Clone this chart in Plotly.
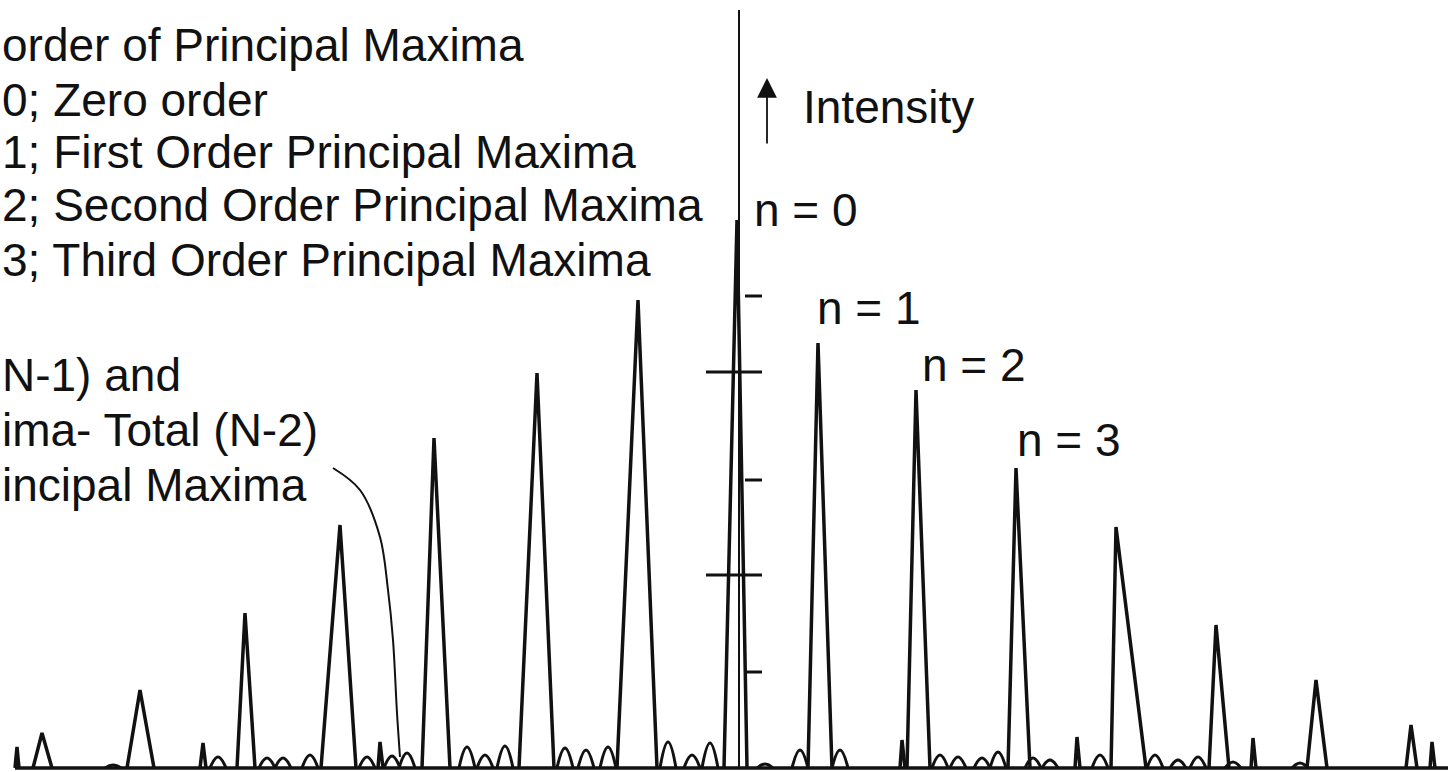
import plotly.graph_objects as go

# ---------------- data ----------------
# principal maxima: centre position, intensity, left foot, right foot
peak_pos   = [17, 42, 140, 203, 245, 340, 380, 434, 537, 638, 737, 818, 902, 916, 1016, 1077, 1116, 1216, 1253, 1316, 1411, 1432]
peak_int   = [21, 35, 78, 25, 155, 243, 26, 330, 395, 468, 548, 425, 28, 378, 300, 31, 241, 143, 30, 88, 43, 26]
peak_left  = [15, 33, 127, 200, 237, 321, 378, 422, 519, 617, 724, 808, 900, 907, 1008, 1075, 1111, 1209, 1251, 1307, 1406, 1430]
peak_right = [19, 52, 154, 206, 255, 356, 383, 450, 554, 657, 747, 832, 905, 930, 1030, 1080, 1146, 1229, 1256, 1327, 1417, 1435]

# secondary maxima (small ripples between principal maxima)
ripple_pos = [113, 218, 267, 283, 310, 367, 392, 407, 467, 485, 505, 565, 586, 608, 668, 692, 710,
              765, 800, 840, 940, 958, 982, 998, 1033, 1050, 1100, 1155, 1178, 1198, 1233, 1300]
ripple_int = [3, 11, 10, 10, 13, 11, 12, 15, 21, 13, 22, 20, 18, 21, 26, 13, 25,
              4, 18, 18, 13, 11, 10, 16, 10, 8, 13, 13, 8, 11, 6, 5]
baseline_start, baseline_end = 15, 1448

# pointer curve from the "(N-2) secondary maxima" note
pointer_x = [333, 360, 380, 388, 393, 397, 400]
pointer_y = [300, 278, 231, 178, 128, 55, 11]

# intensity-axis ticks
axis_pos = 739
axis_top = 758
major_ticks = [193, 396]
minor_ticks = [96, 288, 472]

left_lines = ["order of Principal Maxima",
              "0; Zero order",
              "1; First Order Principal Maxima",
              "2; Second Order Principal Maxima",
              "3; Third Order Principal Maxima"]
left_lines_y = [723, 668, 616, 563, 508]

note_lines = ["N-1) and", "ima- Total (N-2)", "incipal Maxima"]
note_lines_y = [393, 338, 283]

order_labels = ["n = 0", "n = 1", "n = 2", "n = 3"]
order_label_x = [752, 815, 920, 1015]
order_label_y = [558, 460, 403, 328]

# ---------------- build figure ----------------
INK = "#111111"
FONT = dict(family="Liberation Sans, Arial, sans-serif", size=46, color=INK)

# ripples as separate small rounded humps
hw = 8
rx, ry = [], []
for c, h in zip(ripple_pos, ripple_int):
    rx += [c - hw, c, c + hw, None]
    ry += [0, h, 0, None]

# principal maxima as separate triangular segments
px, py = [], []
for c, h, l, r in zip(peak_pos, peak_int, peak_left, peak_right):
    px += [l, c, r, None]
    py += [0, h, 0, None]

fig = go.Figure()
fig.add_trace(go.Scatter(x=[baseline_start, baseline_end], y=[0, 0], mode="lines",
                         line=dict(color=INK, width=3.5),
                         hoverinfo="skip", showlegend=False))
fig.add_trace(go.Scatter(x=rx, y=ry, mode="lines",
                         line=dict(color=INK, width=3, shape="spline", smoothing=1.3),
                         connectgaps=False, hoverinfo="skip", showlegend=False))
fig.add_trace(go.Scatter(x=px, y=py, mode="lines",
                         line=dict(color=INK, width=3.5),
                         connectgaps=False, hoverinfo="skip", showlegend=False))
fig.add_trace(go.Scatter(x=pointer_x, y=pointer_y, mode="lines",
                         line=dict(color=INK, width=2, shape="spline"),
                         hoverinfo="skip", showlegend=False))

shapes = [dict(type="line", xref="x", yref="y", x0=axis_pos, x1=axis_pos, y0=0, y1=axis_top,
               line=dict(color=INK, width=2))]
for t in major_ticks:
    shapes.append(dict(type="line", xref="x", yref="y", x0=axis_pos - 33, x1=axis_pos + 23,
                       y0=t, y1=t, line=dict(color=INK, width=3)))
for t in minor_ticks:
    shapes.append(dict(type="line", xref="x", yref="y", x0=axis_pos + 6, x1=axis_pos + 23,
                       y0=t, y1=t, line=dict(color=INK, width=3)))

annotations = []
for txt, y in zip(left_lines, left_lines_y):
    annotations.append(dict(x=0, y=y, xref="x", yref="y", text=txt, showarrow=False,
                            xanchor="left", yanchor="middle", font=FONT))
for txt, y in zip(note_lines, note_lines_y):
    annotations.append(dict(x=0, y=y, xref="x", yref="y", text=txt, showarrow=False,
                            xanchor="left", yanchor="middle", font=FONT))
for txt, x, y in zip(order_labels, order_label_x, order_label_y):
    annotations.append(dict(x=x, y=y, xref="x", yref="y", text=txt, showarrow=False,
                            xanchor="left", yanchor="middle", font=FONT))
annotations.append(dict(x=801, y=661, xref="x", yref="y", text="Intensity", showarrow=False,
                        xanchor="left", yanchor="middle", font=FONT))
# upward arrow beside "Intensity"
annotations.append(dict(x=767, y=690, ax=767, ay=623, xref="x", yref="y", axref="x", ayref="y",
                        text="", showarrow=True, arrowhead=2, arrowsize=2.2, arrowwidth=1.8,
                        arrowcolor=INK))

fig.update_layout(
    width=1456, height=772,
    margin=dict(l=0, r=0, t=0, b=0),
    paper_bgcolor="white", plot_bgcolor="white",
    xaxis=dict(range=[0, 1456], visible=False, fixedrange=True),
    yaxis=dict(range=[-4, 768], visible=False, fixedrange=True),
    shapes=shapes, annotations=annotations,
    showlegend=False,
)

fig.write_html("out.html")
